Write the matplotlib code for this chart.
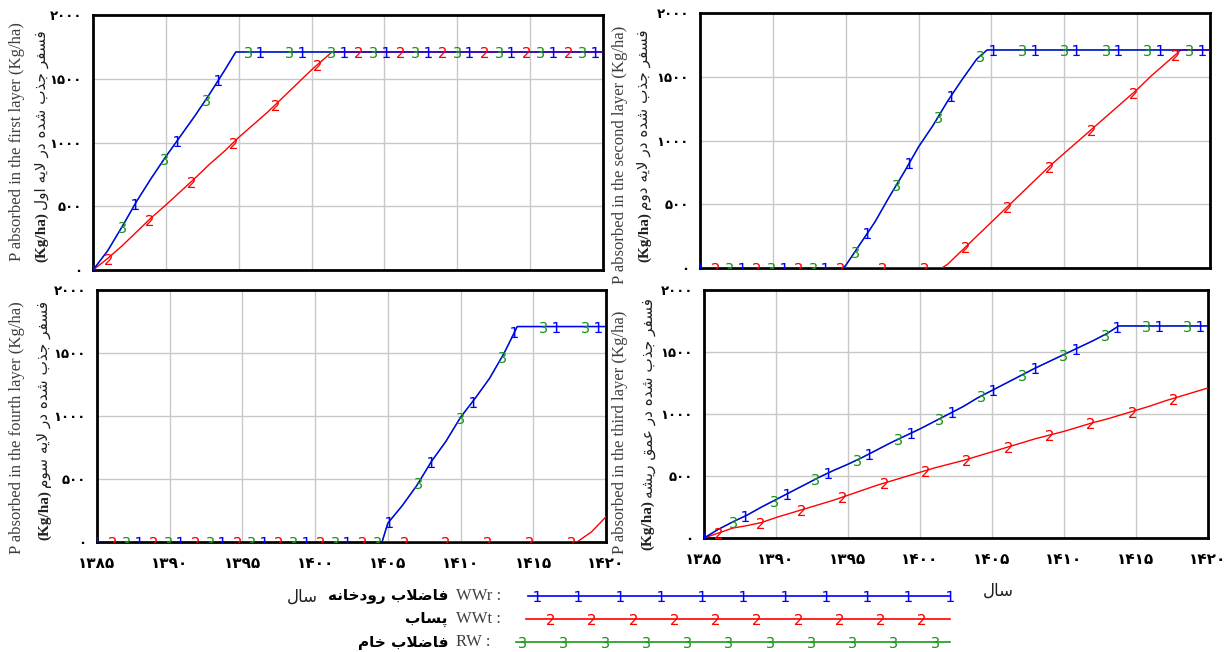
import numpy as np
import matplotlib.pyplot as plt

W, H = 1229, 652

# ---------------- data ----------------
years_ticks = [1385, 1390, 1395, 1400, 1405, 1410, 1415, 1420]
y_ticks = [0, 500, 1000, 1500, 2000]

# first layer (top left)
tl_wwr_x = [1385, 1386, 1387, 1388, 1389, 1390, 1391, 1392, 1393, 1394, 1394.8, 1420]
tl_wwr_y = [0, 150, 340, 540, 720, 890, 1050, 1210, 1380, 1560, 1710, 1710]
tl_wwt_x = [1385, 1386, 1387, 1388, 1389, 1390, 1391, 1392, 1393, 1394, 1395, 1396,
            1397, 1398, 1399, 1400, 1401, 1401.4, 1420]
tl_wwt_y = [0, 90, 190, 300, 410, 510, 615, 720, 830, 930, 1040, 1140,
            1240, 1350, 1460, 1570, 1670, 1710, 1710]

# second layer (top right)
tr_wwr_x = [1385, 1394.8, 1395, 1396, 1397, 1398, 1399, 1400, 1401, 1402, 1403, 1404, 1404.7, 1420]
tr_wwr_y = [0, 0, 20, 190, 360, 560, 750, 950, 1120, 1310, 1480, 1640, 1710, 1710]
tr_wwt_x = [1385, 1401.6, 1402, 1403, 1404, 1405, 1406, 1407, 1408, 1409, 1410, 1411,
            1412, 1413, 1414, 1415, 1416, 1417, 1418, 1420]
tr_wwt_y = [0, 0, 30, 140, 250, 360, 470, 580, 690, 800, 900, 1000,
            1100, 1200, 1300, 1400, 1510, 1610, 1710, 1710]

# fourth layer (bottom left)
bl_wwr_x = [1385, 1404.6, 1405, 1406, 1407, 1408, 1409, 1410, 1411, 1412, 1413, 1413.9, 1420]
bl_wwr_y = [0, 0, 150, 290, 450, 640, 800, 990, 1140, 1300, 1500, 1710, 1710]
bl_wwt_x = [1385, 1418, 1419, 1420]
bl_wwt_y = [0, 0, 80, 200]

# third layer / root zone (bottom right)
br_wwr_x = [1385, 1386, 1387, 1388, 1389, 1390, 1391, 1392, 1393, 1394, 1395, 1396, 1397,
            1398, 1399, 1400, 1401, 1402, 1403, 1404, 1405, 1406, 1407, 1408, 1409, 1410,
            1411, 1412, 1413, 1413.8, 1420]
br_wwr_y = [0, 70, 130, 185, 250, 310, 370, 430, 490, 545, 595, 650, 710,
            770, 825, 880, 940, 1000, 1060, 1130, 1190, 1250, 1310, 1370, 1425, 1480,
            1535, 1590, 1650, 1710, 1710]
br_wwt_x = list(range(1385, 1421))
br_wwt_y = [0, 40, 80, 100, 125, 165, 200, 235, 270, 305, 345, 385, 425, 460, 495, 530,
            565, 595, 625, 660, 695, 730, 765, 800, 830, 860, 895, 930, 960, 995, 1030,
            1065, 1105, 1140, 1175, 1210]

# raw wastewater (RW) lies exactly under the river wastewater curve
tl_rw_x, tl_rw_y = tl_wwr_x, tl_wwr_y
tr_rw_x, tr_rw_y = tr_wwr_x, tr_wwr_y
bl_rw_x, bl_rw_y = bl_wwr_x, bl_wwr_y
br_rw_x, br_rw_y = br_wwr_x, br_wwr_y

# ---------------- persian text helper ----------------
FORMS = {
    'ا': ('\uFE8D', '\uFE8E', None, None),
    'ب': ('\uFE8F', '\uFE90', '\uFE91', '\uFE92'),
    'پ': ('\uFB56', '\uFB57', '\uFB58', '\uFB59'),
    'ج': ('\uFE9D', '\uFE9E', '\uFE9F', '\uFEA0'),
    'خ': ('\uFEA5', '\uFEA6', '\uFEA7', '\uFEA8'),
    'د': ('\uFEA9', '\uFEAA', None, None),
    'ذ': ('\uFEAB', '\uFEAC', None, None),
    'ر': ('\uFEAD', '\uFEAE', None, None),
    'س': ('\uFEB1', '\uFEB2', '\uFEB3', '\uFEB4'),
    'ش': ('\uFEB5', '\uFEB6', '\uFEB7', '\uFEB8'),
    'ض': ('\uFEBD', '\uFEBE', '\uFEBF', '\uFEC0'),
    'ع': ('\uFEC9', '\uFECA', '\uFECB', '\uFECC'),
    'ف': ('\uFED1', '\uFED2', '\uFED3', '\uFED4'),
    'ق': ('\uFED5', '\uFED6', '\uFED7', '\uFED8'),
    'ل': ('\uFEDD', '\uFEDE', '\uFEDF', '\uFEE0'),
    'م': ('\uFEE1', '\uFEE2', '\uFEE3', '\uFEE4'),
    'ن': ('\uFEE5', '\uFEE6', '\uFEE7', '\uFEE8'),
    'ه': ('\uFEE9', '\uFEEA', '\uFEEB', '\uFEEC'),
    'و': ('\uFEED', '\uFEEE', None, None),
    'ی': ('\uFBFC', '\uFBFD', '\uFBFE', '\uFBFF'),
}
RIGHT_ONLY = set('ادذرو')


def fa(text):
    # shape arabic letters and put them in visual (left to right) order
    out = []
    i = 0
    n = len(text)
    while i < n:
        c = text[i]
        if c not in FORMS:
            out.append(c)
            i += 1
            continue
        prev = i > 0 and text[i - 1] in FORMS and text[i - 1] not in RIGHT_ONLY
        if c == 'ل' and i + 1 < n and text[i + 1] == 'ا':
            out.append('\uFEFC' if prev else '\uFEFB')
            i += 2
            continue
        nxt = c not in RIGHT_ONLY and i + 1 < n and text[i + 1] in FORMS
        iso, fin, ini, med = FORMS[c]
        if prev and nxt:
            out.append(med)
        elif prev:
            out.append(fin)
        elif nxt:
            out.append(ini)
        else:
            out.append(iso)
        i += 1
    return ''.join(reversed(out))


def fa_num(v):
    return str(v).translate(str.maketrans('0123456789', '۰۱۲۳۴۵۶۷۸۹'))


# ---------------- figure ----------------
fig = plt.figure(figsize=(W / 100, H / 100), dpi=100)

BLUE, RED, GREEN = '#0000ff', '#ff0000', '#1e961e'
GRAY_TXT = '#404040'


def panel(l, t, r, b):
    return fig.add_axes([l / W, 1 - b / H, (r - l) / W, (b - t) / H])


def mark_pos(start):
    return np.arange(start, 1420.6, 2.87)


panels = [
    dict(box=(93, 15, 603, 270), xt=False,
         s=[(tl_rw_x, tl_rw_y), (tl_wwt_x, tl_wwt_y), (tl_wwr_x, tl_wwr_y)],
         en='P absorbed in the first layer (Kg/ha)', enpos=(17, 142),
         fa_txt='فسفر جذب شده در لایه اول', join=(42, 212)),
    dict(box=(700, 13, 1210, 268), xt=False,
         s=[(tr_rw_x, tr_rw_y), (tr_wwt_x, tr_wwt_y), (tr_wwr_x, tr_wwr_y)],
         en='P absorbed in the second layer (Kg/ha)', enpos=(620, 155),
         fa_txt='فسفر جذب شده در لایه دوم', join=(645, 212)),
    dict(box=(97, 290, 606, 542), xt=True,
         s=[(bl_rw_x, bl_rw_y), (bl_wwt_x, bl_wwt_y), (bl_wwr_x, bl_wwr_y)],
         en='P absorbed in the fourth layer (Kg/ha)', enpos=(17, 428),
         fa_txt='فسفر جذب شده در لایه سوم', join=(45, 490)),
    dict(box=(704, 290, 1208, 538), xt=True,
         s=[(br_rw_x, br_rw_y), (br_wwt_x, br_wwt_y), (br_wwr_x, br_wwr_y)],
         en='P absorbed in the third layer (Kg/ha)', enpos=(620, 432),
         fa_txt='فسفر جذب شده در عمق ریشه', join=(648, 500)),
]

for p in panels:
    ax = panel(*p['box'])
    (x3, y3), (x2, y2), (x1, y1) = p['s']
    ax.plot(x3, y3, color=GREEN, lw=1.0, zorder=2)
    ax.plot(x2, y2, color=RED, lw=1.0, zorder=3)
    ax.plot(x1, y1, color=BLUE, lw=1.0, zorder=4)
    for (xs, ys), col, lab, st in [((x3, y3), GREEN, '3', 1387.0),
                                   ((x2, y2), RED, '2', 1386.0),
                                   ((x1, y1), BLUE, '1', 1385.0)]:
        mx = mark_pos(st)
        ax.plot(mx, np.interp(mx, xs, ys), ls='none', marker='$' + lab + '$',
                ms=8, mew=0, color=col, zorder=5)
    ax.set_xlim(1385, 1420)
    ax.set_ylim(0, 2000)
    ax.set_xticks(years_ticks)
    ax.set_yticks(y_ticks)
    ax.set_yticklabels([fa_num(v) for v in y_ticks], fontsize=9.5,
                       fontweight='bold', family='DejaVu Sans')
    if p['xt']:
        ax.set_xticklabels([fa_num(v) for v in years_ticks], fontsize=11,
                           fontweight='bold', family='DejaVu Sans')
    else:
        ax.set_xticklabels([])
    ax.tick_params(length=0, pad=8)
    ax.tick_params(axis='x', pad=10)
    ax.grid(True, color='#c8c8c8', lw=1)
    ax.set_axisbelow(True)
    for sp in ax.spines.values():
        sp.set_linewidth(2)
        sp.set_color('black')

    ex, ey = p['enpos']
    fig.text(ex / W, 1 - ey / H, p['en'], rotation=90, ha='center', va='center',
             fontsize=12, family='Liberation Serif', color=GRAY_TXT)
    jx, jy = p['join']
    fig.text(jx / W, 1 - jy / H, '(Kg/ha)', rotation=90, ha='center', va='top',
             fontsize=11, fontweight='bold', family='Liberation Serif', color='#202020')
    fig.text(jx / W, 1 - (jy - 2) / H, fa(p['fa_txt']), rotation=90, ha='center',
             va='bottom', fontsize=11, family='DejaVu Sans', color='#202020')

# x axis titles
fig.text(302 / W, 1 - 597 / H, fa('سال'), ha='center', va='center', fontsize=12,
         family='DejaVu Sans', color='#202020')
fig.text(998 / W, 1 - 591 / H, fa('سال'), ha='center', va='center', fontsize=12,
         family='DejaVu Sans', color='#202020')

# ---------------- legend ----------------
leg = fig.add_axes([0, 0, 1, 100 / H])
leg.set_xlim(0, W)
leg.set_ylim(652, 552)
leg.axis('off')

legend_rows = [
    (596, BLUE, '1', 537, 'WWr :', 'فاضلاب رودخانه', 528),
    (619, RED, '2', 550, 'WWt :', 'پساب', 526),
    (642, GREEN, '3', 522, 'RW :', 'فاضلاب خام', 516),
]
for y, col, lab, m0, code, name, x0 in legend_rows:
    leg.plot([x0, 950], [y, y], color=col, lw=1.2)
    mx = np.arange(m0, 951, 41.25)
    leg.plot(mx, [y] * len(mx), ls='none', marker='$' + lab + '$', ms=8,
             mew=0, color=col)
    leg.text(456, y, code, ha='left', va='center', fontsize=12,
             family='Liberation Serif', color=GRAY_TXT)
    leg.text(448, y, fa(name), ha='right', va='center', fontsize=11,
             fontweight='bold', family='DejaVu Sans', color='black')

fig.savefig('out.png', dpi=100)
